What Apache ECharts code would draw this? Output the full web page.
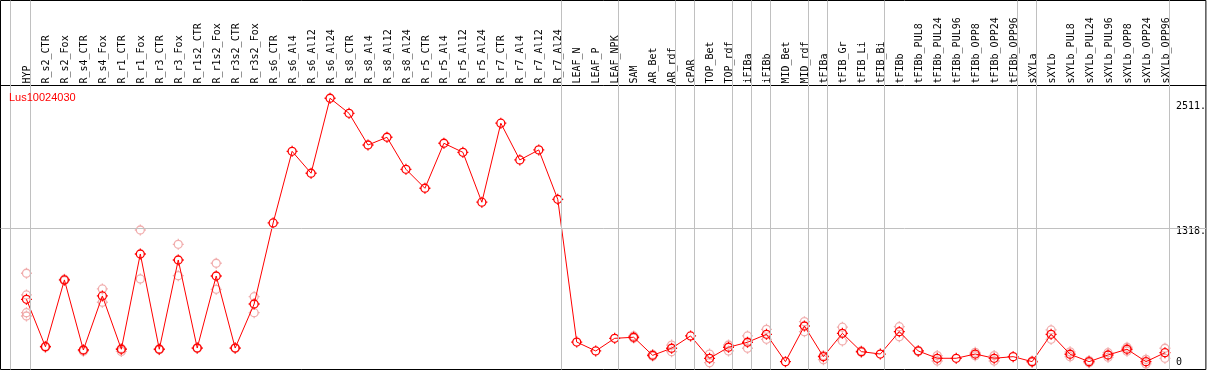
<!DOCTYPE html>
<html>
<head>
<meta charset="utf-8">
<script src="https://cdn.jsdelivr.net/npm/echarts@6/dist/echarts.min.js"></script>
<style>
html,body{margin:0;padding:0;background:#fff;}
#chart{width:1209px;height:370px;}
</style>
</head>
<body>
<div id="chart"></div>
<script>
const geneName = 'Lus10024030';

const categories = [
  'HYP','R_s2_CTR','R_s2_Fox','R_s4_CTR','R_s4_Fox','R_r1_CTR','R_r1_Fox','R_r3_CTR','R_r3_Fox',
  'R_r1s2_CTR','R_r1s2_Fox','R_r3s2_CTR','R_r3s2_Fox','R_s6_CTR','R_s6_Al4','R_s6_Al12','R_s6_Al24',
  'R_s8_CTR','R_s8_Al4','R_s8_Al12','R_s8_Al24','R_r5_CTR','R_r5_Al4','R_r5_Al12','R_r5_Al24',
  'R_r7_CTR','R_r7_Al4','R_r7_Al12','R_r7_Al24','LEAF_N','LEAF_P','LEAF_NPK','SAM','AR_Bet','AR_rdf',
  'cPAR','TOP_Bet','TOP_rdf','iFIBa','iFIBb','MID_Bet','MID_rdf','tFIBa','tFIB_Gr','tFIB_Li','tFIB_Bi',
  'tFIBb','tFIBb_PUL8','tFIBb_PUL24','tFIBb_PUL96','tFIBb_OPP8','tFIBb_OPP24','tFIBb_OPP96',
  'sXYLa','sXYLb','sXYLb_PUL8','sXYLb_PUL24','sXYLb_PUL96','sXYLb_OPP8','sXYLb_OPP24','sXYLb_OPP96'
];

const means = [
  666, 231, 844, 201, 697, 208, 1082, 208, 1027,
  219, 880, 219, 623, 1367, 2024, 1823, 2511,
  2373, 2082, 2153, 1859, 1685, 2098, 2015, 1557,
  2282, 1945, 2037, 1584, 274, 192, 308, 318, 152, 217,
  330, 125, 226, 272, 345, 94, 421, 140, 354, 186, 164,
  369, 192, 125, 125, 164, 125, 140,
  94, 345, 162, 94, 155, 208, 94, 176
];

const replicates = [
  [905, 706, 543, 513], [236, 226], [850, 838], [205, 190], [761, 639], [215, 188], [1302, 853], [212, 204], [1171, 883],
  [222, 216], [997, 758], [222, 216], [690, 543], [], [], [], [],
  [], [], [], [], [], [], [], [],
  [], [], [], [], [], [], [], [330, 310], [160, 145], [246, 186],
  [], [164, 85], [247, 192], [330, 217], [391, 299], [], [461, 369], [150, 112], [410, 284], [192, 180], [],
  [415, 323], [195, 188], [150, 100], [], [180, 148], [150, 100], [],
  [100, 88], [385, 299], [184, 140], [104, 84], [176, 134], [226, 190], [115, 73], [217, 125]
];

const groupEnds = ['HYP','R_r7_Al24','LEAF_NPK','AR_rdf','cPAR','TOP_rdf','iFIBa','iFIBb','MID_rdf',
  'tFIBa','tFIB_Bi','tFIBb_OPP96','sXYLa','sXYLb_OPP96'];

const yTickValues = [2511, 1318, 0];
const yTickLabels = ['2511.', '1318.', '0'];
const refLineValue = 1318;

// axis extents (chart layout)
const xMin = -1.368, xMax = 62.158;
const yMin = 22, yMax = 3408;
const sepOffset = 4 / 19;
const firstSep = -0.84;

const markerPath = 'path://M3,11 A8,8 0 1,0 19,11 A8,8 0 1,0 3,11 Z M11,0 L11,3 M11,19 L11,22 M0,11 L3,11 M19,11 L22,11';

const meanData = means.map((v, i) => [i, v]);
const repData = [];
replicates.forEach((arr, i) => arr.forEach(v => repData.push([i, v])));

const sepLines = [{ xAxis: firstSep }].concat(
  groupEnds.map(n => ({ xAxis: categories.indexOf(n) + sepOffset }))
);

const labelPositions = yTickValues.map(v => Math.max(v, yMin));
const richKeys = ['a', 'b', 'c'];
const monoBase = { fontFamily: 'DejaVu Sans Mono', fontSize: 10, color: '#000' };

const chart = echarts.init(document.getElementById('chart'), null, { renderer: 'canvas' });
chart.setOption({
  animation: false,
  backgroundColor: '#fff',
  title: {
    text: geneName,
    left: 9, top: 92, padding: 0,
    textStyle: { color: '#ff0000', fontFamily: 'Liberation Sans', fontSize: 11, fontWeight: 'normal' }
  },
  grid: {
    left: 0.5, top: 0.5, right: 1.5, bottom: 0.5,
    show: true, borderColor: '#000', borderWidth: 1, backgroundColor: '#fff'
  },
  xAxis: {
    type: 'value', position: 'top', offset: -85,
    min: xMin, max: xMax,
    axisLine: { show: true, lineStyle: { color: '#000', width: 1 } },
    axisTick: { show: false },
    splitLine: { show: false },
    axisLabel: {
      customValues: categories.map((_, i) => i),
      rotate: -90, margin: 2,
      formatter: v => {
        const name = categories[Math.round(v)];
        return name ? '{l|' + name + '}' : '';
      },
      rich: {
        l: Object.assign({ padding: [2, 0, 0, 0] }, monoBase)
      }
    }
  },
  yAxis: {
    type: 'value', position: 'right',
    min: yMin, max: yMax,
    axisLine: { show: false }, axisTick: { show: false }, splitLine: { show: false },
    axisLabel: {
      inside: true, align: 'left', margin: 30,
      customValues: labelPositions,
      formatter: v => {
        const k = labelPositions.indexOf(v);
        return k < 0 ? '' : '{' + richKeys[k] + '|' + yTickLabels[k] + '}';
      },
      rich: {
        a: Object.assign({ padding: [17, 0, 0, 0] }, monoBase),
        b: Object.assign({ padding: [7, 0, 0, 0] }, monoBase),
        c: Object.assign({ padding: [0, 0, 15, 0] }, monoBase)
      }
    }
  },
  series: [
    {
      type: 'scatter', name: 'replicates', data: repData, z: 2,
      symbol: markerPath, symbolSize: 11,
      itemStyle: { color: 'rgba(0,0,0,0)', borderColor: '#ee9999', borderWidth: 1.3 },
      markLine: {
        silent: true, symbol: 'none', animation: false,
        label: { show: false },
        lineStyle: { color: '#c0c0c0', width: 1, type: 'solid' },
        data: sepLines.concat([{ yAxis: refLineValue }])
      }
    },
    {
      type: 'line', name: 'mean', data: meanData, z: 3,
      symbol: markerPath, symbolSize: 11, showAllSymbol: true,
      lineStyle: { color: '#ff0000', width: 1 },
      itemStyle: { color: 'rgba(0,0,0,0)', borderColor: '#ff0000', borderWidth: 1.3 }
    }
  ]
});
</script>
</body>
</html>
